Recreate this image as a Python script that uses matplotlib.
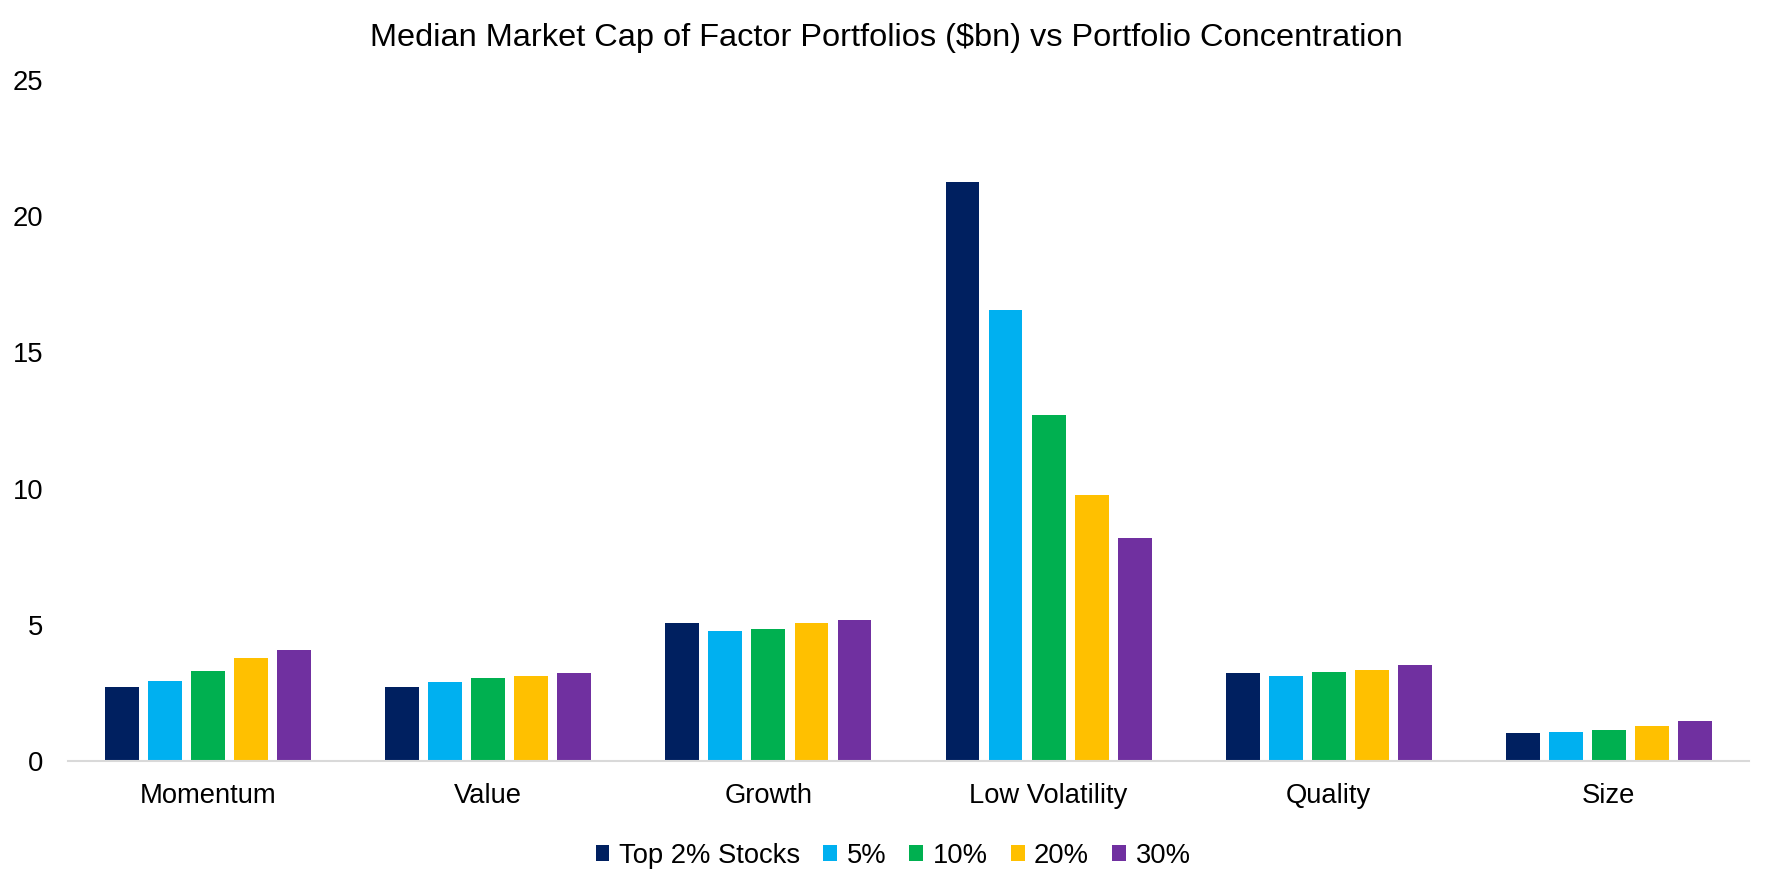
import matplotlib
matplotlib.use('Agg')
import matplotlib.pyplot as plt
import numpy as np

plt.rcParams['font.family'] = ['Liberation Sans', 'DejaVu Sans']

categories = ['Momentum', 'Value', 'Growth', 'Low Volatility', 'Quality', 'Size']
series_names = ['Top 2% Stocks', '5%', '10%', '20%', '30%']
top2 = [2.70, 2.70, 5.05, 21.25, 3.22, 1.02]
p5 = [2.92, 2.89, 4.76, 16.58, 3.11, 1.05]
p10 = [3.29, 3.03, 4.83, 12.70, 3.25, 1.13]
p20 = [3.77, 3.11, 5.05, 9.76, 3.33, 1.27]
p30 = [4.06, 3.22, 5.16, 8.18, 3.51, 1.46]
colors = ['#002060', '#00B0F0', '#00B050', '#FFC000', '#7030A0']

fig = plt.figure(figsize=(17.72, 8.86), dpi=100)
ax = fig.add_axes([0.0384, 0.1416, 0.9486, 0.7676])

x = np.arange(len(categories))
pitch = 0.1536
width = 0.121
for i, (name, vals) in enumerate(zip(series_names, [top2, p5, p10, p20, p30])):
    ax.bar(x + (i - 2) * pitch, vals, width, color=colors[i], label=name)

ax.set_xlim(-0.5, len(categories) - 0.5)
ax.set_ylim(0, 25)
ax.set_yticks([0, 5, 10, 15, 20, 25])
ax.set_xticks(x)
ax.set_xticklabels(categories)
ax.tick_params(axis='both', length=0, labelsize=19.7)
ax.tick_params(axis='y', pad=18)
ax.tick_params(axis='x', pad=16)
for s in ['top', 'right', 'left']:
    ax.spines[s].set_visible(False)
ax.spines['bottom'].set_color('#D9D9D9')
ax.spines['bottom'].set_linewidth(1.5)

fig.suptitle('Median Market Cap of Factor Portfolios ($bn) vs Portfolio Concentration',
             fontsize=23.4, y=0.957, va='center')

fig.legend(loc='center', bbox_to_anchor=(0.504, 0.034), ncol=5, frameon=False,
           fontsize=19.7, handlelength=0.5, handleheight=0.5, handletextpad=0.35,
           columnspacing=0.85)

fig.savefig('out.png', dpi=100)
